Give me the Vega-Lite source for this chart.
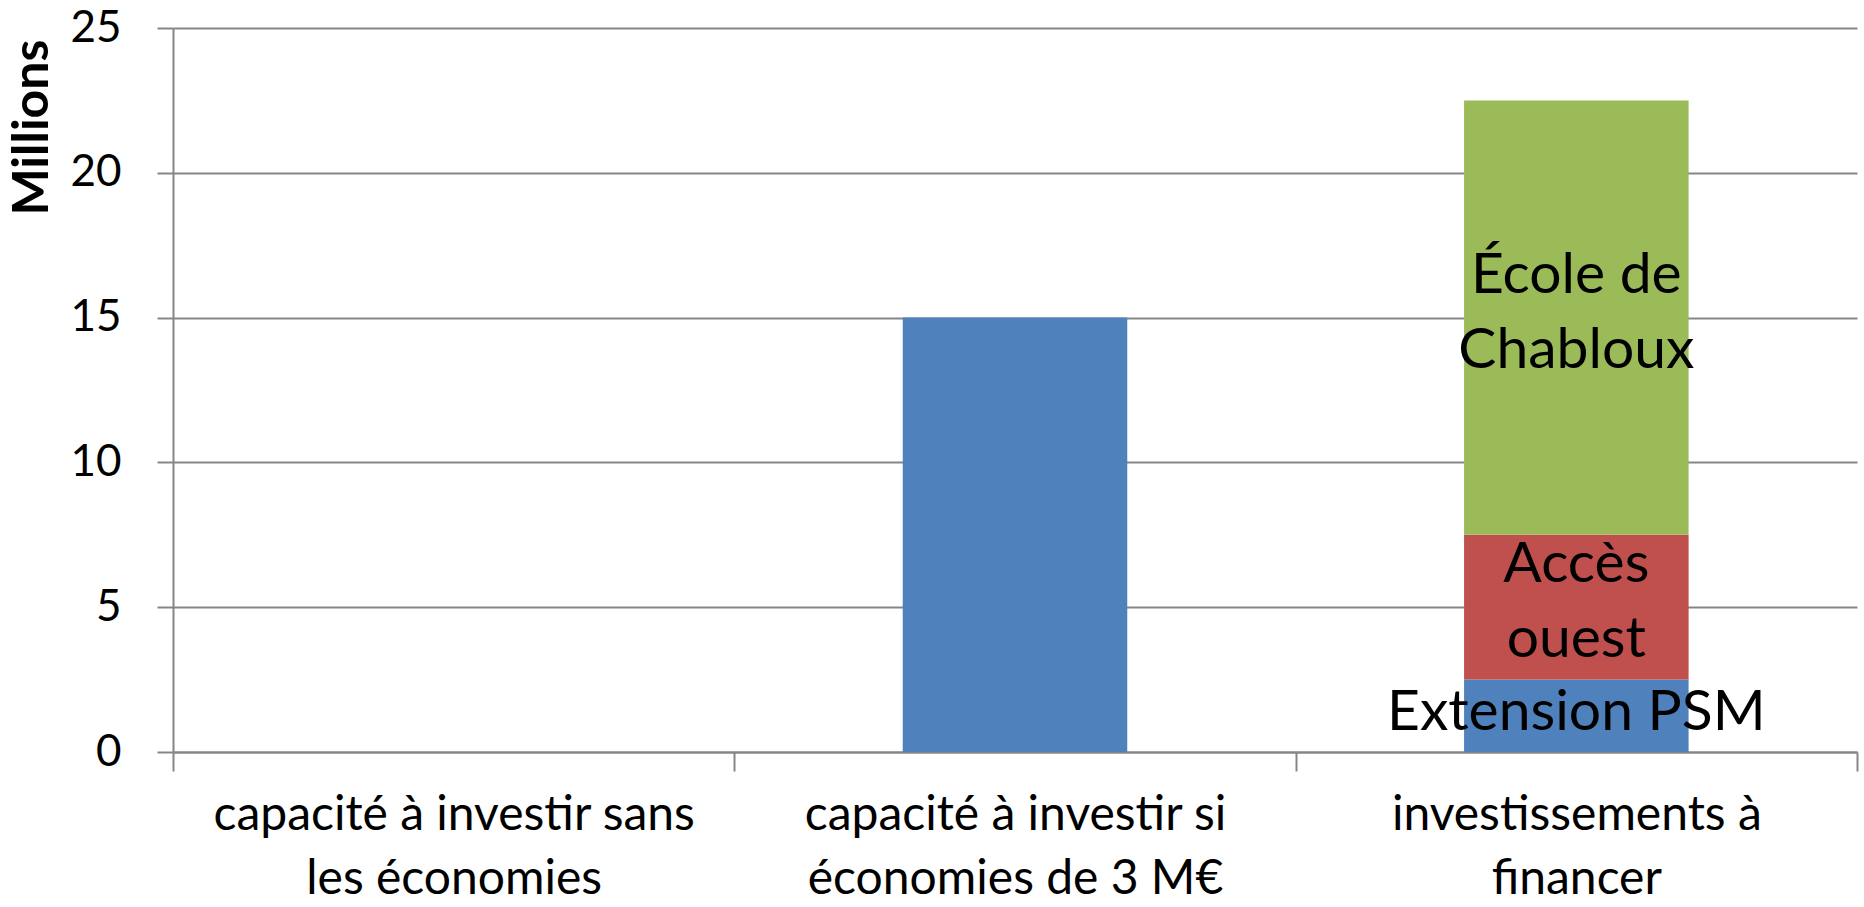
{
  "$schema": "https://vega.github.io/schema/vega-lite/v6.json",
  "width": 1684,
  "height": 724,
  "autosize": {"type": "none"},
  "padding": {"left": 173, "top": 28, "right": 7, "bottom": 155},
  "background": "white",
  "config": {"view": {"stroke": null}, "font": "Lato"},
  "data": {
    "values": [
      {"cat": "capacité à investir si économies de 3 M€", "serie": "Capacité", "ordre": 1, "value": 15, "label": ""},
      {"cat": "investissements à financer", "serie": "Extension PSM", "ordre": 1, "value": 2.5, "label": "Extension PSM"},
      {"cat": "investissements à financer", "serie": "Accès ouest", "ordre": 2, "value": 5, "label": "Accès\nouest"},
      {"cat": "investissements à financer", "serie": "École de Chabloux", "ordre": 3, "value": 15, "label": "École de\nChabloux"}
    ]
  },
  "transform": [
    {"stack": "value", "groupby": ["cat"], "sort": [{"field": "ordre"}], "as": ["v0", "v1"]},
    {"calculate": "(datum.v0 + datum.v1) / 2", "as": "vmid"}
  ],
  "encoding": {
    "x": {
      "field": "cat",
      "type": "nominal",
      "sort": null,
      "scale": {
        "domain": ["capacité à investir sans les économies", "capacité à investir si économies de 3 M€", "investissements à financer"],
        "paddingInner": 0,
        "paddingOuter": 0
      },
      "axis": {
        "title": null,
        "labelAngle": 0,
        "labelExpr": "datum.value == 'capacité à investir sans les économies' ? ['capacité à investir sans', 'les économies'] : datum.value == 'capacité à investir si économies de 3 M€' ? ['capacité à investir si', 'économies de 3 M€'] : datum.value == 'investissements à financer' ? ['investissements à', 'financer'] : ''",
        "labelFontSize": 48,
        "labelLineHeight": 64,
        "labelPadding": 20,
        "labelColor": "black",
        "labelFont": "Lato",
        "labelLimit": 0,
        "tickBand": "extent",
        "tickSize": 19,
        "tickWidth": 2,
        "tickColor": "#868686",
        "domainColor": "#868686",
        "domainWidth": 2,
        "grid": false
      }
    }
  },
  "layer": [
    {
      "mark": {"type": "bar", "width": {"band": 0.4}},
      "encoding": {
        "y": {
          "field": "v0",
          "type": "quantitative",
          "scale": {"domain": [0, 25], "nice": false},
          "title": "Millions",
          "axis": {
            "values": [0, 5, 10, 15, 20, 25],
            "grid": true,
            "gridColor": "#868686",
            "gridWidth": 2,
            "tickSize": 16,
            "tickWidth": 2,
            "tickColor": "#868686",
            "domain": true,
            "domainColor": "#868686",
            "domainWidth": 2,
            "labelFontSize": 44,
            "labelPadding": 36,
            "labelColor": "black",
            "labelFont": "Lato",
            "titleFont": "Lato",
            "titleFontSize": 50,
            "titleFontWeight": "bold",
            "titleColor": "black",
            "titleAngle": -90,
            "titleX": -141,
            "titleY": 99,
            "titleAlign": "center",
            "titleBaseline": "middle"
          }
        },
        "y2": {"field": "v1"},
        "color": {
          "field": "serie",
          "type": "nominal",
          "scale": {
            "domain": ["Capacité", "Extension PSM", "Accès ouest", "École de Chabloux"],
            "range": ["#4F81BD", "#4F81BD", "#C0504D", "#9BBB59"]
          },
          "legend": null
        }
      }
    },
    {
      "transform": [{"filter": "indexof(datum.label, '\\n') >= 0"}],
      "mark": {"type": "text", "fontSize": 57, "lineHeight": 75, "lineBreak": "\n", "color": "black", "font": "Lato", "dy": -42, "baseline": "middle", "align": "center"},
      "encoding": {
        "y": {"field": "vmid", "type": "quantitative", "title": "Millions"},
        "text": {"field": "label"}
      }
    },
    {
      "transform": [{"filter": "datum.label != '' && indexof(datum.label, '\\n') < 0"}],
      "mark": {"type": "text", "fontSize": 57, "color": "black", "font": "Lato", "dy": -3, "baseline": "middle", "align": "center"},
      "encoding": {
        "y": {"field": "vmid", "type": "quantitative", "title": "Millions"},
        "text": {"field": "label"}
      }
    }
  ]
}
